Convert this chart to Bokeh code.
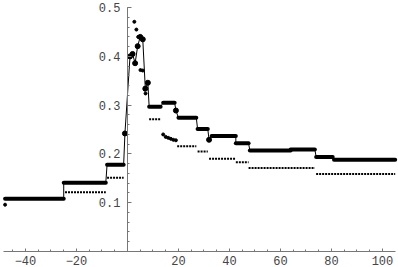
from bokeh.plotting import figure
from bokeh.models import FixedTicker, Range1d
from bokeh.embed import file_html
from bokeh.resources import INLINE
import numpy as np

# Upper series: flat runs (start x, end x, level) and single points
upper_run_x0 = [-48, -25, -8, 8.5, 14, 20, 27.5, 33, 42.5, 48, 64, 74, 81]
upper_run_x1 = [-25, -8.5, -1.5, 13, 18.5, 27, 31.5, 42.5, 47.5, 64, 73.5, 80.5, 105]
upper_run_y = [0.108, 0.141, 0.178, 0.297, 0.305, 0.274, 0.251, 0.237, 0.222, 0.207, 0.209, 0.194, 0.188]
upper_pt_x = [-1, 1, 2, 3, 4, 5, 6, 7, 8, 19, 32]
upper_pt_y = [0.242, 0.400, 0.405, 0.386, 0.421, 0.440, 0.435, 0.334, 0.346, 0.289, 0.229]

# Lower series
lower_run_x0 = [-24.5, -8, 8.5, 19.5, 27.5, 32, 42.5, 47.5, 74]
lower_run_x1 = [-8.5, -1.5, 13, 27, 31.5, 42.5, 47.5, 73.5, 105]
lower_run_y = [0.1215, 0.151, 0.271, 0.216, 0.205, 0.190, 0.183, 0.171, 0.159]
lower_pt_x = [-48, 2.7, 3.5, 4.2, 5.1, 6.0, 6.8, 7.1, 14, 15, 16, 17, 18, 19]
lower_pt_y = [0.096, 0.471, 0.455, 0.440, 0.372, 0.371, 0.332, 0.324, 0.240, 0.235, 0.233, 0.231, 0.229, 0.228]

x_ticks = [-40, -20, 20, 40, 60, 80, 100]
y_ticks = [0.1, 0.2, 0.3, 0.4, 0.5]

p = figure(width=398, height=267, output_backend="svg", toolbar_location=None,
           x_range=Range1d(-49.8, 106.3), y_range=Range1d(0, 0.5146),
           min_border_left=0, min_border_right=0, min_border_top=0, min_border_bottom=0)
p.outline_line_color = None
p.grid.visible = False
p.background_fill_color = "white"

# connecting thin line of upper series
vx = list(upper_pt_x)
vy = list(upper_pt_y)
for a, b, y in zip(upper_run_x0, upper_run_x1, upper_run_y):
    vx += [a, b]
    vy += [y, y]
order = np.argsort(vx, kind="stable")
p.line(np.array(vx)[order], np.array(vy)[order], line_color="black", line_width=1)

p.segment(x0=upper_run_x0, y0=upper_run_y, x1=upper_run_x1, y1=upper_run_y,
          line_color="black", line_width=4, line_cap="round")
p.scatter(upper_pt_x, upper_pt_y, size=5, color="black")

p.segment(x0=lower_run_x0, y0=lower_run_y, x1=lower_run_x1, y1=lower_run_y,
          line_color="black", line_width=2, line_dash="2 1")
p.scatter(lower_pt_x, lower_pt_y, size=3, color="black")

ax_color = "#777777"
lab_color = "#444444"
font = "Liberation Mono"

xa = p.xaxis[0]
xa.ticker = FixedTicker(ticks=x_ticks, minor_ticks=list(range(-45, 105, 5)))
xa.bounds = (-48.8, 105)
ya = p.yaxis[0]
ya.ticker = FixedTicker(ticks=y_ticks, minor_ticks=[round(0.02 * i, 2) for i in range(0, 26)])
ya.bounds = (0, 0.5)
ya.fixed_location = 0

for ax in (xa, ya):
    ax.axis_line_color = ax_color
    ax.major_tick_line_color = ax_color
    ax.minor_tick_line_color = ax_color
    ax.major_tick_out = 0
    ax.minor_tick_out = 0
    ax.minor_tick_in = 2
    ax.major_label_text_font = font
    ax.major_label_text_font_size = "12px"
    ax.major_label_text_color = lab_color
xa.major_tick_in = 3
ya.major_tick_in = 4
xa.major_label_standoff = 4
ya.major_label_standoff = 7

open("out.html", "w").write(file_html(p, INLINE))
